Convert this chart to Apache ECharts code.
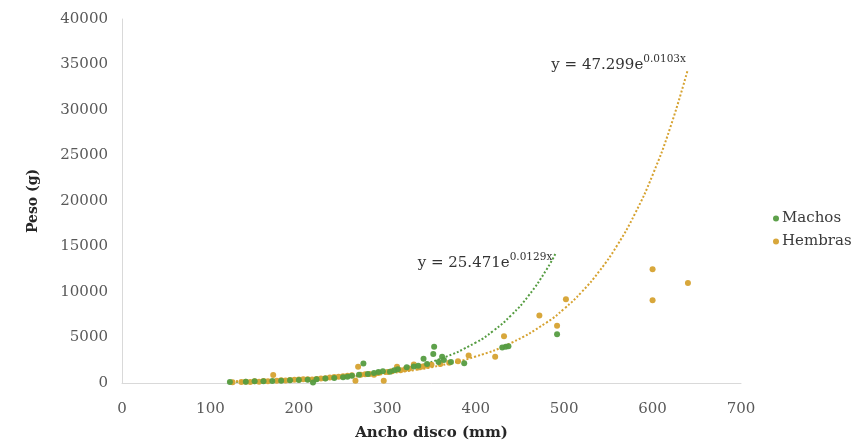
<!DOCTYPE html>
<html>
<head>
<meta charset="utf-8">
<script src="https://cdn.jsdelivr.net/npm/echarts@6/dist/echarts.min.js"></script>
<style>html,body{margin:0;padding:0;background:#fff;}#c{width:867px;height:444px;}</style>
</head>
<body>
<div id="c"></div>
<script>
var xTicks = [0, 100, 200, 300, 400, 500, 600, 700];
var yTicks = [0, 5000, 10000, 15000, 20000, 25000, 30000, 35000, 40000];

var machos = [[122,100],[140,150],[150,180],[160,200],[170,220],[180,260],[190,300],[200,330],[210,350],[216,60],[220,420],[230,500],[240,550],[250,620],[255,700],[260,800],[268,900],[273,2150],[278,1000],[285,1100],[290,1200],[295,1300],[303,1240],[308,1400],[312,1500],[322,1720],[330,1800],[335,1900],[341,2660],[345,2100],[352,3180],[353,3980],[358,2300],[362,2880],[364,2520],[372,2300],[387,2160],[430,3900],[434,3980],[437,4050],[492,5370]];

var hembras = [[125,80],[135,120],[140,150],[145,100],[150,180],[155,140],[160,220],[165,200],[171,870],[175,250],[180,300],[185,280],[190,320],[195,350],[200,380],[205,400],[210,420],[215,380],[220,450],[225,500],[230,520],[235,600],[240,650],[245,700],[250,750],[255,800],[260,850],[264,250],[267,1790],[270,900],[275,950],[280,1000],[285,900],[290,1100],[296,250],[300,1200],[305,1300],[311,1790],[315,1400],[320,1500],[325,1600],[330,2040],[335,1700],[340,1800],[345,1900],[350,2000],[360,2100],[370,2220],[380,2400],[392,3030],[422,2880],[432,5150],[472,7420],[492,6280],[502,9200],[600,12500],[600,9100],[640,11000]];

// trend curves
var machosTrend = [[120,120],[160,200],[200,335],[240,565],[280,945],[320,1580],[360,2650],[400,4440],[420,5740],[440,7430],[460,9620],[480,12450],[490,14170]];
var hembrasTrend = [[120,165],[160,245],[200,370],[240,560],[280,845],[320,1280],[360,1930],[400,2910],[440,4400],[480,6640],[500,8160],[520,10020],[540,12320],[560,15130],[580,18590],[600,22850],[620,28070],[640,34490]];

var machosEq = {main: 'y = 25.471e', sup: '0.0129x'};
var hembrasEq = {main: 'y = 47.299e', sup: '0.0103x'};

var GREEN = '#559c41';
var GOLD = '#d6a230';
var FONT = 'DejaVu Serif';

function eqMark(arr, eq, offset) {
  return {
    silent: true,
    symbol: 'circle',
    symbolSize: 0,
    itemStyle: {color: 'transparent'},
    data: [{coord: arr[arr.length - 1]}],
    label: {
      show: true, position: 'left', offset: offset, distance: 2,
      formatter: '{m|' + eq.main + '}{s|' + eq.sup + '}',
      rich: {
        m: {fontFamily: FONT, fontSize: 15, color: '#333333', lineHeight: 20},
        s: {fontFamily: FONT, fontSize: 10.5, color: '#333333', lineHeight: 20, padding: [0, 0, 12, 0]}
      }
    }
  };
}

var chart = echarts.init(document.getElementById('c'));
chart.setOption({
  animation: false,
  backgroundColor: '#fff',
  grid: {left: 122, right: 126, top: 19, bottom: 61, containLabel: false, outerBoundsMode: 'none'},
  legend: {
    orient: 'vertical',
    left: 768,
    top: 206,
    itemWidth: 6,
    itemHeight: 6,
    itemGap: 8,
    icon: 'circle',
    data: ['Machos', 'Hembras'],
    textStyle: {fontFamily: FONT, fontSize: 15, color: '#3a3a3a', padding: [0, 0, 0, -2]}
  },
  xAxis: {
    type: 'value',
    min: 0, max: 700, interval: 100,
    name: 'Ancho disco (mm)',
    nameLocation: 'middle',
    nameGap: 43,
    nameTextStyle: {fontFamily: FONT, fontSize: 15, fontWeight: 'bold', color: '#262626'},
    axisLine: {show: true, lineStyle: {color: '#d9d9d9', width: 1}},
    axisTick: {show: false},
    splitLine: {show: false},
    axisLabel: {fontFamily: FONT, fontSize: 15, color: '#595959', margin: 19,
      formatter: function (v) { return xTicks.indexOf(v) >= 0 ? String(v) : ''; }}
  },
  yAxis: {
    type: 'value',
    min: 0, max: 40000, interval: 5000,
    name: 'Peso (g)',
    nameLocation: 'middle',
    nameGap: 82,
    nameRotate: 90,
    nameTextStyle: {fontFamily: FONT, fontSize: 14, fontWeight: 'bold', color: '#262626'},
    axisLine: {show: true, lineStyle: {color: '#d9d9d9', width: 1}},
    axisTick: {show: false},
    splitLine: {show: false},
    axisLabel: {fontFamily: FONT, fontSize: 15, color: '#595959', margin: 14,
      formatter: function (v) { return yTicks.indexOf(v) >= 0 ? String(v) : ''; }}
  },
  series: [
    {
      name: 'Machos trend', type: 'line', data: machosTrend,
      smooth: true, showSymbol: false, symbol: 'none', silent: true,
      lineStyle: {color: GREEN, width: 2, type: [2, 2]}, z: 1,
      markPoint: eqMark(machosTrend, machosEq, [-1, 9])
    },
    {
      name: 'Hembras trend', type: 'line', data: hembrasTrend,
      smooth: true, showSymbol: false, symbol: 'none', silent: true,
      lineStyle: {color: GOLD, width: 2, type: [2, 2]}, z: 1,
      markPoint: eqMark(hembrasTrend, hembrasEq, [0, -4])
    },
    {
      name: 'Machos', type: 'scatter', data: machos, symbolSize: 6,
      itemStyle: {color: GREEN, opacity: 0.95}, z: 3
    },
    {
      name: 'Hembras', type: 'scatter', data: hembras, symbolSize: 6,
      itemStyle: {color: GOLD, opacity: 0.95}, z: 2
    }
  ]
});
</script>
</body>
</html>
